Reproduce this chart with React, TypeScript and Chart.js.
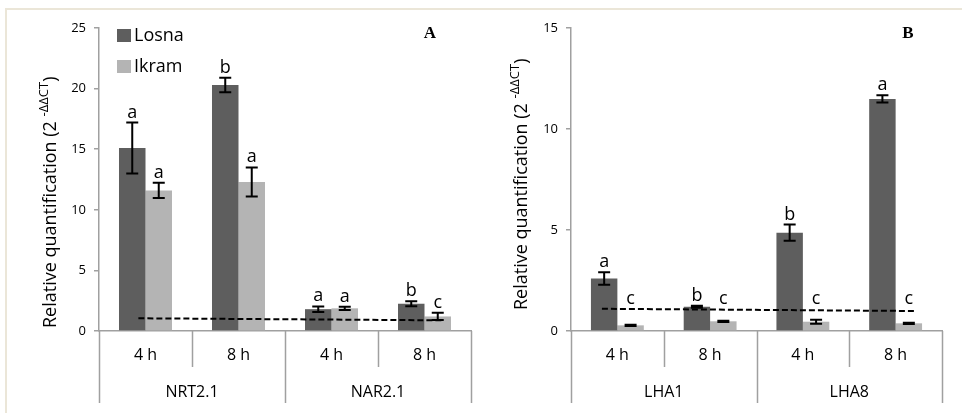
import { useEffect, useRef } from "react";
import { Chart, registerables } from "chart.js";

Chart.register(...registerables);

// ---- data ----
const TIMES = ["4 h", "8 h", "4 h", "8 h"];
const GENES_A = ["NRT2.1", "NAR2.1"];
const GENES_B = ["LHA1", "LHA8"];
const SERIES = ["Losna", "Ikram"];

const LOSNA_A = [15.1, 20.3, 1.8, 2.25];
const LOSNA_A_ERR = [2.1, 0.6, 0.23, 0.2];
const IKRAM_A = [11.6, 12.3, 1.87, 1.2];
const IKRAM_A_ERR = [0.63, 1.2, 0.14, 0.3];
const LETTERS_LOSNA_A = ["a", "b", "a", "b"];
const LETTERS_IKRAM_A = ["a", "a", "a", "c"];

const LOSNA_B = [2.6, 1.2, 4.87, 11.49];
const LOSNA_B_ERR = [0.31, 0.05, 0.4, 0.18];
const IKRAM_B = [0.28, 0.48, 0.46, 0.38];
const IKRAM_B_ERR = [0.03, 0.03, 0.1, 0.03];
const LETTERS_LOSNA_B = ["a", "b", "b", "a"];
const LETTERS_IKRAM_B = ["c", "c", "c", "c"];

const Y_MAX_A = 25;
const Y_MAX_B = 15;
const Y_STEP = 5;

// calibrator (= 1) dashed line; x runs 0..1 across the plot on the "ref" scale
const REF_LINE_A = [
  { x: 0.027, y: 1.05 },
  { x: 1.005, y: 0.88 },
];
const REF_LINE_B = [
  { x: 0.0, y: 1.1 },
  { x: 1.013, y: 0.99 },
];

// ---- styles ----
const FONT = "'Open Sans', 'DejaVu Sans', sans-serif";
const DARK = "#5e5e5e";
const LIGHT = "#b4b4b4";
const AXIS = "#a0a0a0";
const H = 415;
const PLOT_TOP = 28;
const PLOT_BOTTOM = 331;

type Panel = {
  width: number;
  plotLeft: number;
  plotRight: number;
  yMax: number;
  losna: number[];
  losnaErr: number[];
  ikram: number[];
  ikramErr: number[];
  lettersLosna: string[];
  lettersIkram: string[];
  genes: string[];
  refLine: { x: number; y: number }[];
  tag: string;
  tagOffset: number;
  titleStartY: number;
  titleBaselineX: number;
  legend: boolean;
};

const panels = new WeakMap<any, Panel>();

const panelPlugin = {
  id: "panelDecor",
  afterDatasetsDraw(chart: any) {
    const p = panels.get(chart);
    if (!p) return;
    const ctx: CanvasRenderingContext2D = chart.ctx;
    const area = chart.chartArea;
    const xs = chart.scales.x;
    const rs = chart.scales.ref;
    const ys = chart.scales.y;
    const refLevel = Math.max(...p.refLine.map((d) => d.y));

    ctx.save();

    // dashed calibrator line
    ctx.strokeStyle = "#000";
    ctx.lineWidth = 2;
    ctx.setLineDash([6, 3]);
    ctx.beginPath();
    p.refLine.forEach((d, i) => {
      const px = rs.getPixelForValue(d.x);
      const py = ys.getPixelForValue(d.y);
      if (i === 0) ctx.moveTo(px, py);
      else ctx.lineTo(px, py);
    });
    ctx.stroke();
    ctx.setLineDash([]);

    // error bars and significance letters
    const sets = [
      { vals: p.losna, errs: p.losnaErr, letters: p.lettersLosna },
      { vals: p.ikram, errs: p.ikramErr, letters: p.lettersIkram },
    ];
    sets.forEach((s, di) => {
      const meta = chart.getDatasetMeta(di);
      meta.data.forEach((bar: any, i: number) => {
        const x = bar.x;
        const top = ys.getPixelForValue(s.vals[i] + s.errs[i]);
        const bot = ys.getPixelForValue(s.vals[i] - s.errs[i]);
        ctx.strokeStyle = "#000";
        ctx.lineWidth = 2;
        ctx.beginPath();
        ctx.moveTo(x, top);
        ctx.lineTo(x, bot);
        ctx.moveTo(x - 6, top);
        ctx.lineTo(x + 6, top);
        ctx.moveTo(x - 6, bot);
        ctx.lineTo(x + 6, bot);
        ctx.stroke();

        const anchor = ys.getPixelForValue(Math.max(s.vals[i] + s.errs[i], refLevel));
        ctx.fillStyle = "#000";
        ctx.font = `18px ${FONT}`;
        ctx.textAlign = "center";
        ctx.textBaseline = "alphabetic";
        ctx.fillText(s.letters[i], x, anchor - 5);
      });
    });

    // two-level category axis
    const n = TIMES.length;
    const w = (area.right - area.left) / n;
    ctx.strokeStyle = AXIS;
    ctx.lineWidth = 1.5;
    ctx.beginPath();
    for (let k = 0; k <= n; k++) {
      const x = Math.round(area.left + k * w) + 0.5;
      ctx.moveTo(x, area.bottom);
      ctx.lineTo(x, area.bottom + (k % 2 === 0 ? 72 : 36));
    }
    ctx.stroke();
    ctx.fillStyle = "#000";
    ctx.font = `16px ${FONT}`;
    ctx.textAlign = "center";
    ctx.textBaseline = "middle";
    TIMES.forEach((t, i) => {
      ctx.fillText(t, xs.getPixelForValue(i), area.bottom + 24);
    });
    p.genes.forEach((g, gi) => {
      const cx = (xs.getPixelForValue(gi * 2) + xs.getPixelForValue(gi * 2 + 1)) / 2;
      ctx.fillText(g, cx, area.bottom + 61);
    });

    // legend
    if (p.legend) {
      const colors = [DARK, LIGHT];
      ctx.font = `18px ${FONT}`;
      ctx.textAlign = "left";
      ctx.textBaseline = "middle";
      SERIES.forEach((name, i) => {
        const y0 = area.top + 1 + i * 31;
        ctx.fillStyle = colors[i];
        ctx.fillRect(area.left + 18, y0, 14, 13);
        ctx.fillStyle = "#000";
        ctx.fillText(name, area.left + 35, y0 + 7);
      });
    }

    // panel tag
    ctx.font = `bold 17px 'Liberation Serif', 'Times New Roman', serif`;
    ctx.textAlign = "center";
    ctx.textBaseline = "middle";
    ctx.fillStyle = "#000";
    ctx.fillText(p.tag, area.right - p.tagOffset, area.top + 6);

    // rotated y title with superscript
    ctx.translate(p.titleBaselineX, p.titleStartY);
    ctx.rotate(-Math.PI / 2);
    ctx.textAlign = "left";
    ctx.textBaseline = "alphabetic";
    ctx.font = `18px ${FONT}`;
    const main = "Relative quantification (2 ";
    ctx.fillText(main, 0, 0);
    let cx = ctx.measureText(main).width;
    ctx.font = `13px ${FONT}`;
    const sup = "-\u0394\u0394CT";
    ctx.fillText(sup, cx, -8);
    cx += ctx.measureText(sup).width;
    ctx.font = `18px ${FONT}`;
    ctx.fillText(")", cx, 0);
    ctx.restore();
  },
};

function makeConfig(p: Panel): any {
  return {
    type: "bar",
    data: {
      labels: TIMES,
      datasets: [
        {
          label: SERIES[0],
          data: p.losna,
          backgroundColor: DARK,
          categoryPercentage: 0.57,
          barPercentage: 1,
        },
        {
          label: SERIES[1],
          data: p.ikram,
          backgroundColor: LIGHT,
          categoryPercentage: 0.57,
          barPercentage: 1,
        },
      ],
    },
    options: {
      animation: false,
      responsive: false,
      maintainAspectRatio: false,
      layout: { padding: { left: 0, right: p.width - p.plotRight, top: PLOT_TOP, bottom: 0 } },
      plugins: {
        legend: { display: false },
        tooltip: { enabled: false },
      },
      scales: {
        x: {
          type: "category",
          grid: { display: false },
          ticks: { display: false },
          border: { display: true, color: AXIS, width: 1.5 },
          afterFit: (s: any) => {
            s.height = H - PLOT_BOTTOM;
          },
        },
        ref: { type: "linear", axis: "x", display: false, min: 0, max: 1 },
        y: {
          min: 0,
          max: p.yMax,
          ticks: { stepSize: Y_STEP, color: "#000", font: { family: FONT, size: 13 }, padding: 8 },
          grid: { drawOnChartArea: false, drawTicks: true, tickLength: 5, color: AXIS, lineWidth: 1.5 },
          border: { display: true, color: AXIS, width: 1.5 },
          afterFit: (s: any) => {
            s.width = p.plotLeft;
          },
        },
      },
    },
    plugins: [panelPlugin],
  };
}

const PANEL_A: Panel = {
  width: 480,
  plotLeft: 99,
  plotRight: 471,
  yMax: Y_MAX_A,
  losna: LOSNA_A,
  losnaErr: LOSNA_A_ERR,
  ikram: IKRAM_A,
  ikramErr: IKRAM_A_ERR,
  lettersLosna: LETTERS_LOSNA_A,
  lettersIkram: LETTERS_IKRAM_A,
  genes: GENES_A,
  refLine: REF_LINE_A,
  tag: "A",
  tagOffset: 41,
  titleStartY: 328,
  titleBaselineX: 56,
  legend: true,
};

const PANEL_B: Panel = {
  width: 482,
  plotLeft: 91,
  plotRight: 462,
  yMax: Y_MAX_B,
  losna: LOSNA_B,
  losnaErr: LOSNA_B_ERR,
  ikram: IKRAM_B,
  ikramErr: IKRAM_B_ERR,
  lettersLosna: LETTERS_LOSNA_B,
  lettersIkram: LETTERS_IKRAM_B,
  genes: GENES_B,
  refLine: REF_LINE_B,
  tag: "B",
  tagOffset: 34,
  titleStartY: 310,
  titleBaselineX: 47,
  legend: false,
};

function PanelChart({ panel, left }: { panel: Panel; left: number }) {
  const ref = useRef<HTMLCanvasElement | null>(null);
  useEffect(() => {
    if (!ref.current) return;
    const chart = new Chart(ref.current, makeConfig(panel));
    panels.set(chart, panel);
    chart.draw();
    return () => chart.destroy();
  }, [panel]);
  return (
    <canvas
      ref={ref}
      width={panel.width}
      height={H}
      style={{ position: "absolute", left, top: 0, width: panel.width, height: H }}
    />
  );
}

export default function App() {
  return (
    <div
      style={{
        position: "absolute",
        left: 0,
        top: 0,
        width: 962,
        height: H,
        background: "#fff",
        overflow: "hidden",
      }}
    >
      <div
        style={{
          position: "absolute",
          left: 5,
          top: 8,
          right: 0,
          bottom: 2,
          borderTop: "2px solid #ebe6d8",
          borderLeft: "2px solid #ebe6d8",
        }}
      />
      <PanelChart panel={PANEL_A} left={0} />
      <PanelChart panel={PANEL_B} left={480} />
    </div>
  );
}
